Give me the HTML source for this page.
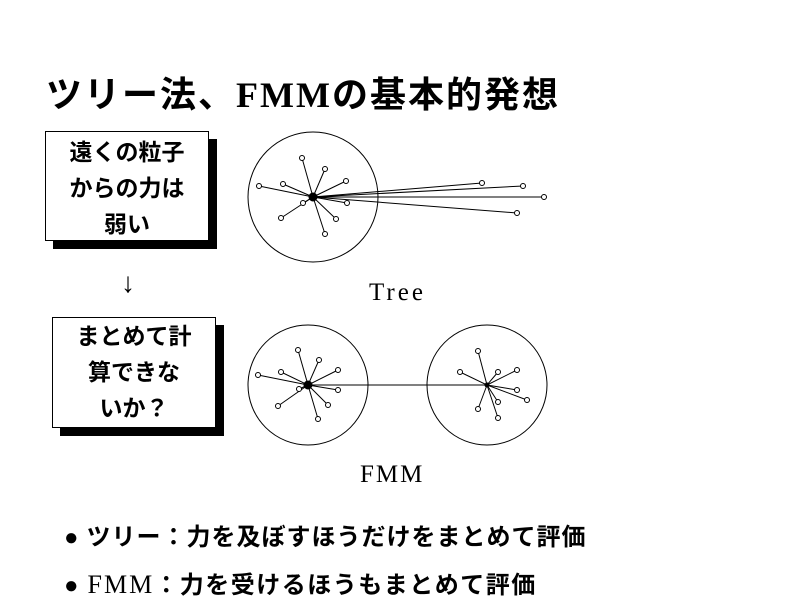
<!DOCTYPE html>
<html><head><meta charset="utf-8"><style>
body{margin:0;width:800px;height:600px;background:#fff;position:relative;overflow:hidden;font-family:"Liberation Serif","Noto Serif CJK SC",serif;color:#000}
.t{position:absolute;white-space:nowrap}
.box{position:absolute;border:1px solid #000;background:#fff;box-shadow:8px 8px 0 #000;text-align:center;font-family:"Liberation Sans","Noto Sans CJK JP",sans-serif;font-weight:bold;font-size:23px;line-height:36px}
</style></head><body>
<div class="t" style="left:46px;top:66px;font-size:36px;letter-spacing:2px;font-weight:bold;font-family:'Liberation Serif','Noto Sans CJK JP',serif">ツリー法、FMMの基本的発想</div>
<div class="box" style="left:45px;top:131px;width:162px;height:108px"><div style="padding-top:2px">遠くの粒子<br>からの力は<br>弱い</div></div>
<div class="t" style="left:121px;top:268px;font-size:28px">↓</div>
<div class="box" style="left:52px;top:317px;width:162px;height:109px"><div>まとめて計<br>算できな<br>いか？</div></div>
<div class="t" style="left:369px;top:279px;font-size:25px;letter-spacing:3px">Tree</div>
<div class="t" style="left:360px;top:461px;font-size:25px;letter-spacing:2px">FMM</div>
<div class="t" style="left:64px;top:517px;font-size:24px;letter-spacing:1px;font-family:'Liberation Serif','Noto Sans CJK JP',serif;font-weight:bold">●&nbsp;ツリー：力を及ぼすほうだけをまとめて評価</div>
<div class="t" style="left:64px;top:565px;font-size:24px;letter-spacing:1.5px;font-family:'Liberation Serif','Noto Sans CJK JP',serif;font-weight:bold">●&nbsp;<span style="font-weight:normal;font-size:26px;letter-spacing:2px">FMM</span>：力を受けるほうもまとめて評価</div>
<svg width="800" height="600" style="position:absolute;left:0;top:0" fill="none" stroke="#000" stroke-width="1">
<circle cx="313" cy="197" r="65"/>
<g>
<line x1="313" y1="197" x2="302" y2="158"/><line x1="313" y1="197" x2="325" y2="169"/><line x1="313" y1="197" x2="346" y2="181"/><line x1="313" y1="197" x2="283" y2="184"/><line x1="313" y1="197" x2="259" y2="186"/><line x1="313" y1="197" x2="303" y2="203"/><line x1="313" y1="197" x2="347" y2="203"/><line x1="313" y1="197" x2="281" y2="218"/><line x1="313" y1="197" x2="336" y2="219"/><line x1="313" y1="197" x2="325" y2="234"/>
<line x1="313" y1="197" x2="482" y2="183"/><line x1="313" y1="197" x2="523" y2="186"/><line x1="313" y1="197" x2="544" y2="197"/><line x1="313" y1="197" x2="517" y2="213"/>
</g>
<g fill="#fff">
<circle cx="302" cy="158" r="2.5"/><circle cx="325" cy="169" r="2.5"/><circle cx="346" cy="181" r="2.5"/><circle cx="283" cy="184" r="2.5"/><circle cx="259" cy="186" r="2.5"/><circle cx="303" cy="203" r="2.5"/><circle cx="347" cy="203" r="2.5"/><circle cx="281" cy="218" r="2.5"/><circle cx="336" cy="219" r="2.5"/><circle cx="325" cy="234" r="2.5"/>
<circle cx="482" cy="183" r="2.5"/><circle cx="523" cy="186" r="2.5"/><circle cx="544" cy="197" r="2.5"/><circle cx="517" cy="213" r="2.5"/>
</g>
<circle cx="313" cy="197" r="4" fill="#000"/>
<circle cx="308" cy="385" r="60"/><circle cx="487" cy="385" r="60"/>
<line x1="308" y1="385" x2="487" y2="385"/>
<g>
<line x1="308" y1="385" x2="298" y2="350"/><line x1="308" y1="385" x2="319" y2="360"/><line x1="308" y1="385" x2="338" y2="370"/><line x1="308" y1="385" x2="281" y2="372"/><line x1="308" y1="385" x2="258" y2="375"/><line x1="308" y1="385" x2="299" y2="389"/><line x1="308" y1="385" x2="338" y2="390"/><line x1="308" y1="385" x2="278" y2="406"/><line x1="308" y1="385" x2="328" y2="405"/><line x1="308" y1="385" x2="318" y2="419"/>
<line x1="487" y1="385" x2="478" y2="351"/><line x1="487" y1="385" x2="498" y2="372"/><line x1="487" y1="385" x2="460" y2="372"/><line x1="487" y1="385" x2="517" y2="370"/><line x1="487" y1="385" x2="517" y2="390"/><line x1="487" y1="385" x2="527" y2="400"/><line x1="487" y1="385" x2="498" y2="402"/><line x1="487" y1="385" x2="478" y2="409"/><line x1="487" y1="385" x2="498" y2="418"/>
</g>
<g fill="#fff">
<circle cx="298" cy="350" r="2.5"/><circle cx="319" cy="360" r="2.5"/><circle cx="338" cy="370" r="2.5"/><circle cx="281" cy="372" r="2.5"/><circle cx="258" cy="375" r="2.5"/><circle cx="299" cy="389" r="2.5"/><circle cx="338" cy="390" r="2.5"/><circle cx="278" cy="406" r="2.5"/><circle cx="328" cy="405" r="2.5"/><circle cx="318" cy="419" r="2.5"/>
<circle cx="478" cy="351" r="2.5"/><circle cx="498" cy="372" r="2.5"/><circle cx="460" cy="372" r="2.5"/><circle cx="517" cy="370" r="2.5"/><circle cx="517" cy="390" r="2.5"/><circle cx="527" cy="400" r="2.5"/><circle cx="498" cy="402" r="2.5"/><circle cx="478" cy="409" r="2.5"/><circle cx="498" cy="418" r="2.5"/>
</g>
<circle cx="308" cy="385" r="4" fill="#000"/>
<circle cx="487" cy="385" r="2" fill="#000"/>
</svg>
</body></html>
